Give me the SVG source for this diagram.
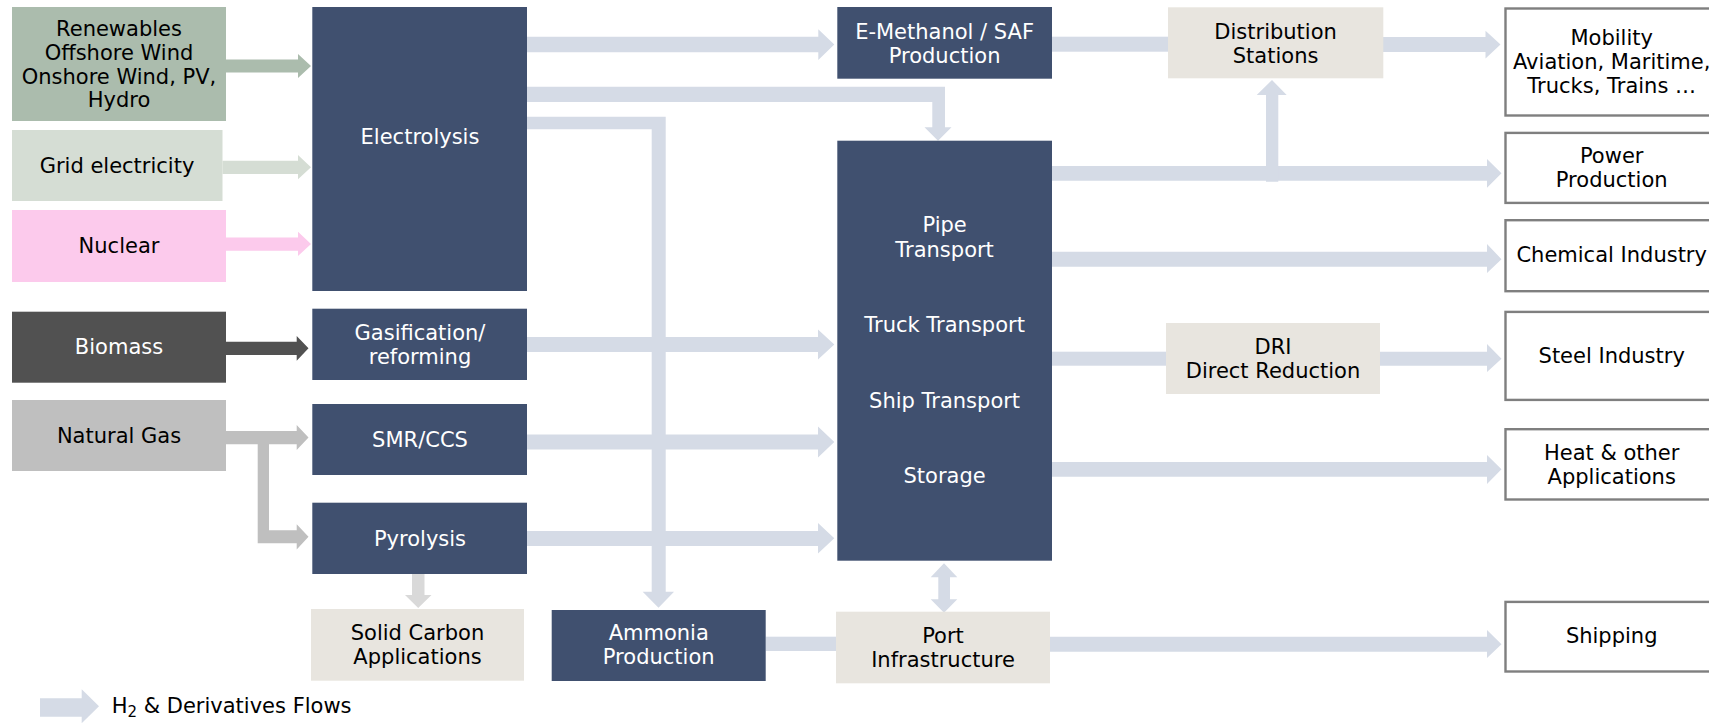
<svg xmlns="http://www.w3.org/2000/svg" width="1709" height="724" viewBox="0 0 1709 724">
<style>
text{font-family:"DejaVu Sans",Verdana,"Liberation Sans",sans-serif;font-size:21px;text-anchor:middle}
.w{fill:#ffffff}
.k{fill:#000000}
.dark{fill:#40506F}
.beige{fill:#E8E5DF}
.out{fill:#ffffff;stroke:#7F7F7F;stroke-width:2.4}
.flow{fill:#D5DBE6}
</style>
<rect width="1709" height="724" fill="#ffffff"/>
<g id="connectors">
  <polygon fill="#ABBCAD" points="226,59.5 298,59.5 298,54 311,66 298,78 298,72.5 226,72.5"/>
  <polygon fill="#D5DDD4" points="222.5,160.7 298,160.7 298,155 311,167.2 298,179.3 298,174 222.5,174"/>
  <polygon fill="#FCCAEC" points="226,237.5 298,237.5 298,231.7 311,244 298,256 298,250.7 226,250.7"/>
  <polygon fill="#515151" points="226,341.7 296.7,341.7 296.7,336 308.5,348.3 296.7,360.7 296.7,355 226,355"/>
  <polygon fill="#BFBFBF" points="226,431 296.7,431 296.7,425 308.5,437.5 296.7,450 296.7,444.3 226,444.3"/>
  <polygon fill="#BFBFBF" points="257.7,444 269,444 269,530.2 296.7,530.2 296.7,524.2 308.5,536.8 296.7,549.5 296.7,543.3 257.7,543.3"/>
  <polygon fill="#D9D9D9" points="412,574 424.5,574 424.5,595 431.5,595 418.2,608 405,595 412,595"/>
  <polygon class="flow" points="527,36.7 818.3,36.7 818.3,29.3 834.3,44.5 818.3,60 818.3,52.3 527,52.3"/>
  <polygon class="flow" points="527,86.7 945,86.7 945,127.3 951.5,127.3 938,140.7 924.5,127.3 932.3,127.3 932.3,102 527,102"/>
  <polygon class="flow" points="527,116.7 665.7,116.7 665.7,591.7 674,591.7 658.5,607.7 642.7,591.7 651.7,591.7 651.7,129.3 527,129.3"/>
  <polygon class="flow" points="527,337 818,337 818,329.5 834.3,344.5 818,359.5 818,352 527,352"/>
  <polygon class="flow" points="527,434.5 818,434.5 818,426.5 834.3,442 818,457.5 818,449.5 527,449.5"/>
  <polygon class="flow" points="527,531 818,531 818,523 834.3,538.3 818,553.5 818,546 527,546"/>
  <rect class="flow" x="1052" y="36.7" width="116" height="15"/>
  <polygon class="flow" points="1383,37 1485.5,37 1485.5,30.7 1500.5,44.5 1485.5,58.5 1485.5,52 1383,52"/>
  <polygon class="flow" points="1052,166 1487,166 1487,159 1501.5,173.3 1487,187.7 1487,180.7 1052,180.7"/>
  <polygon class="flow" points="1266,181.7 1266,95 1256.7,95 1272,80 1286.7,95 1278.3,95 1278.3,181.7"/>
  <polygon class="flow" points="1052,251.7 1487,251.7 1487,244 1501.5,259.2 1487,273 1487,266.7 1052,266.7"/>
  <rect class="flow" x="1052" y="351.7" width="114" height="14"/>
  <polygon class="flow" points="1380,351.7 1487,351.7 1487,344 1501.5,358.7 1487,372 1487,365.7 1380,365.7"/>
  <polygon class="flow" points="1052,462 1487,462 1487,455 1501.5,469.3 1487,484 1487,476.7 1052,476.7"/>
  <rect class="flow" x="765.7" y="636.7" width="70.3" height="14.3"/>
  <polygon class="flow" points="1050,636.7 1487,636.7 1487,630 1501.5,644.2 1487,658 1487,651.7 1050,651.7"/>
  <polygon class="flow" points="938.3,577.3 930.7,577.3 944,563.3 957.3,577.3 950,577.3 950,599.3 957.3,599.3 944,612.7 930.7,599.3 938.3,599.3"/>
</g>
<g id="renewables"><rect x="12" y="7" width="214" height="114" fill="#ABBCAD"/>
  <text class="k" x="119" y="35.7">Renewables</text><text class="k" x="119" y="59.7">Offshore Wind</text><text class="k" x="119" y="83.5">Onshore Wind, PV,</text><text class="k" x="119" y="107.3">Hydro</text></g>
<g id="grid"><rect x="12" y="130" width="210.5" height="71" fill="#D5DDD4"/><text class="k" x="117" y="173">Grid electricity</text></g>
<g id="nuclear"><rect x="12" y="210" width="214" height="72" fill="#FCCAEC"/><text class="k" x="119" y="253">Nuclear</text></g>
<g id="biomass"><rect x="12" y="311.7" width="214" height="71" fill="#515151"/><text class="w" x="119" y="354">Biomass</text></g>
<g id="natural-gas"><rect x="12" y="400" width="214" height="71" fill="#BFBFBF"/><text class="k" x="119" y="442.5">Natural Gas</text></g>
<g id="electrolysis"><rect class="dark" x="312.3" y="7" width="214.7" height="284"/><text class="w" x="420" y="144">Electrolysis</text></g>
<g id="gasification"><rect class="dark" x="312.3" y="308.7" width="214.7" height="71.3"/><text class="w" x="420" y="340">Gasification/</text><text class="w" x="420" y="364">reforming</text></g>
<g id="smr"><rect class="dark" x="312.3" y="404" width="214.7" height="71"/><text class="w" x="420" y="447">SMR/CCS</text></g>
<g id="pyrolysis"><rect class="dark" x="312.3" y="502.7" width="214.7" height="71.3"/><text class="w" x="420" y="545.5">Pyrolysis</text></g>
<g id="solid-carbon"><rect class="beige" x="311" y="609" width="213" height="71.7"/><text class="k" x="417.5" y="640">Solid Carbon</text><text class="k" x="417.5" y="664">Applications</text></g>
<g id="ammonia"><rect class="dark" x="551.7" y="610" width="214" height="71"/><text class="w" x="658.7" y="640">Ammonia</text><text class="w" x="658.7" y="664">Production</text></g>
<g id="e-methanol"><rect class="dark" x="837.3" y="7" width="214.7" height="71.7"/><text class="w" x="944.6" y="38.5">E-Methanol / SAF</text><text class="w" x="944.6" y="62.5">Production</text></g>
<g id="transport"><rect class="dark" x="837.3" y="140.7" width="214.7" height="420"/>
  <text class="w" x="944.6" y="231.7">Pipe</text><text class="w" x="944.6" y="256.7">Transport</text><text class="w" x="944.6" y="331.7">Truck Transport</text><text class="w" x="944.6" y="408.3">Ship Transport</text><text class="w" x="944.6" y="483.3">Storage</text></g>
<g id="port"><rect class="beige" x="836" y="611.7" width="214" height="71.6"/><text class="k" x="943" y="643">Port</text><text class="k" x="943" y="667">Infrastructure</text></g>
<g id="distribution"><rect class="beige" x="1168" y="7.3" width="215.3" height="71"/><text class="k" x="1275.6" y="38.5">Distribution</text><text class="k" x="1275.6" y="62.5">Stations</text></g>
<g id="dri"><rect class="beige" x="1166" y="323" width="214" height="71"/><text class="k" x="1273" y="354">DRI</text><text class="k" x="1273" y="378">Direct Reduction</text></g>
<g id="mobility"><rect class="out" x="1505.5" y="8.5" width="213" height="107"/><text class="k" x="1611.7" y="44.5">Mobility</text><text class="k" x="1611.7" y="68.5">Aviation, Maritime,</text><text class="k" x="1611.7" y="92.5">Trucks, Trains …</text></g>
<g id="power"><rect class="out" x="1505.5" y="132.9" width="213" height="70"/><text class="k" x="1611.7" y="163.3">Power</text><text class="k" x="1611.7" y="187.3">Production</text></g>
<g id="chemical"><rect class="out" x="1505.5" y="220.2" width="213" height="71"/><text class="k" x="1611.7" y="262">Chemical Industry</text></g>
<g id="steel"><rect class="out" x="1505.5" y="311.9" width="213" height="88"/><text class="k" x="1611.7" y="363.3">Steel Industry</text></g>
<g id="heat"><rect class="out" x="1505.5" y="429.2" width="213" height="70.3"/><text class="k" x="1611.7" y="459.8">Heat &amp; other</text><text class="k" x="1611.7" y="483.8">Applications</text></g>
<g id="shipping"><rect class="out" x="1505.5" y="601.9" width="213" height="69.6"/><text class="k" x="1611.7" y="642.5">Shipping</text></g>
<g id="legend"><polygon class="flow" points="40,698.3 81.7,698.3 81.7,689.3 99,706.3 81.7,723.3 81.7,716.7 40,716.7"/>
  <text class="k" x="111.7" y="712.7" style="text-anchor:start">H<tspan dy="4" font-size="15">2</tspan><tspan dy="-4"> &amp; Derivatives Flows</tspan></text></g>
</svg>
